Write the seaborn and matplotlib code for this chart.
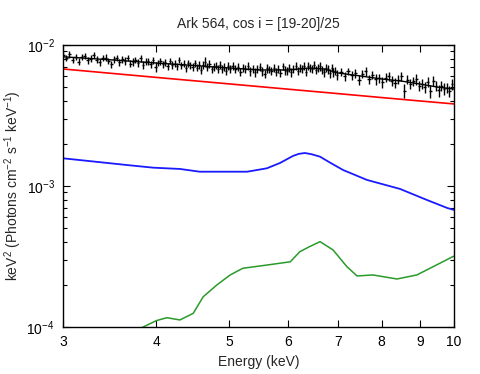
import numpy as np
import pandas as pd
import matplotlib
matplotlib.use("Agg")
import matplotlib.pyplot as plt
import seaborn as sns
from matplotlib.ticker import LogLocator, NullLocator, NullFormatter

# Donnees (flux en keV^2 Photons cm^-2 s^-1 keV^-1)

title = "Ark 564, cos i = [19-20]/25"

# points observes (energie en keV, flux en 1e-3)
obs_energy = [
    3.00, 3.03, 3.06, 3.09, 3.12, 3.15, 3.18, 3.21, 3.24, 3.27,
    3.30, 3.33, 3.36, 3.39, 3.42, 3.45, 3.48, 3.51, 3.54, 3.57,
    3.60, 3.63, 3.66, 3.69, 3.72, 3.75, 3.78, 3.81, 3.84, 3.87,
    3.90, 3.93, 3.96, 3.99, 4.02, 4.05, 4.08, 4.11, 4.14, 4.17,
    4.20, 4.23, 4.26, 4.29, 4.32, 4.35, 4.38, 4.41, 4.44, 4.47,
    4.50, 4.53, 4.56, 4.59, 4.62, 4.65, 4.68, 4.71, 4.74, 4.77,
    4.80, 4.83, 4.86, 4.89, 4.92, 4.95, 4.98,
    5.02, 5.06, 5.10, 5.14, 5.18, 5.22, 5.26, 5.30, 5.34, 5.38,
    5.42, 5.46, 5.50, 5.54, 5.58, 5.62, 5.66, 5.70, 5.74, 5.78,
    5.82, 5.86, 5.90, 5.94, 5.98, 6.02, 6.06, 6.10, 6.14, 6.18,
    6.22, 6.26, 6.30, 6.34, 6.38, 6.42, 6.46, 6.50, 6.54, 6.58,
    6.62, 6.66, 6.70, 6.74, 6.78, 6.82, 6.86, 6.90, 6.94, 6.98,
    7.06, 7.14, 7.22, 7.30, 7.38, 7.46, 7.54, 7.62, 7.70, 7.78,
    7.86, 7.94, 8.02, 8.10, 8.18, 8.26, 8.34, 8.42, 8.50, 8.58,
    8.66, 8.74, 8.82, 8.90, 8.98, 9.06, 9.14, 9.22, 9.30, 9.38,
    9.46, 9.54, 9.62, 9.70, 9.78, 9.86, 9.94,
]
obs_energy_err = [0.015] * 67 + [0.02] * 50 + [0.04] * 37
obs_flux = [
    8.50, 8.06, 8.61, 7.84, 8.23, 7.63, 8.26, 8.39, 7.81, 8.02,
    8.48, 7.89, 7.55, 8.08, 8.14, 7.71, 7.30, 7.90, 8.10, 7.54,
    7.91, 7.72, 8.09, 7.37, 7.58, 7.87, 7.46, 8.05, 7.19, 7.63,
    7.67, 7.28, 7.78, 7.01, 7.44, 7.64, 7.33, 7.53, 7.07, 7.72,
    7.18, 7.38, 7.07, 7.85, 7.18, 7.38, 6.86, 7.42, 7.19, 7.03,
    7.44, 6.92, 7.19, 6.67, 7.22, 7.62, 6.98, 7.38, 6.74, 7.00,
    7.12, 6.76, 7.23, 6.79, 6.99, 6.56, 7.09,
    6.72, 7.11, 6.76, 7.01, 6.45, 6.91, 6.76, 7.14, 6.52, 6.77,
    6.42, 6.80, 6.98, 6.52, 6.25, 6.85, 6.72, 6.58, 6.92, 6.45,
    6.78, 6.32, 7.05, 6.65, 6.52, 6.86, 6.41, 6.77, 7.07, 6.56,
    6.92, 6.74, 7.10, 6.44, 7.07, 6.87, 6.72, 7.18, 6.63, 6.88,
    7.06, 6.63, 6.42, 6.90, 6.71, 6.32, 6.89, 6.41, 6.54, 6.17,
    6.42, 6.00, 6.51, 6.09, 6.28, 5.69, 6.25, 6.50, 5.73, 6.16,
    5.70, 5.83, 5.44, 5.87, 6.01, 5.58, 5.39, 5.69, 5.99, 4.75,
    5.69, 5.32, 5.54, 5.71, 5.14, 5.32, 5.01, 5.49, 4.70, 5.60,
    5.15, 4.77, 5.14, 4.87, 4.99, 4.71, 5.28,
]
obs_flux_err = [
    0.44, 0.42, 0.46, 0.40, 0.43, 0.45, 0.41, 0.44, 0.42, 0.46,
    0.43, 0.40, 0.45, 0.42, 0.44, 0.41, 0.46, 0.43, 0.40, 0.44,
    0.42, 0.45, 0.41, 0.43, 0.46, 0.40, 0.44, 0.42, 0.45, 0.41,
    0.43, 0.46, 0.42, 0.55, 0.40, 0.44, 0.41, 0.45, 0.43, 0.40,
    0.46, 0.42, 0.44, 0.41, 0.45, 0.43, 0.40, 0.44, 0.42, 0.46,
    0.41, 0.43, 0.45, 0.40, 0.44, 0.60, 0.42, 0.46, 0.41, 0.43,
    0.40, 0.45, 0.42, 0.44, 0.41, 0.46, 0.43,
    0.44, 0.46, 0.43, 0.47, 0.42, 0.45, 0.48, 0.44, 0.46, 0.43,
    0.47, 0.45, 0.42, 0.46, 0.44, 0.48, 0.43, 0.45, 0.47, 0.44,
    0.46, 0.42, 0.45, 0.48, 0.43, 0.46, 0.44, 0.47, 0.45, 0.42,
    0.46, 0.44, 0.48, 0.43, 0.45, 0.47, 0.44, 0.46, 0.42, 0.45,
    0.48, 0.44, 0.46, 0.43, 0.47, 0.45, 0.42, 0.46, 0.44, 0.48,
    0.42, 0.45, 0.40, 0.47, 0.43, 0.46, 0.41, 0.50, 0.44, 0.42,
    0.48, 0.43, 0.46, 0.41, 0.45, 0.49, 0.42, 0.44, 0.47, 0.55,
    0.43, 0.46, 0.41, 0.48, 0.44, 0.42, 0.47, 0.43, 0.52, 0.45,
    0.41, 0.46, 0.43, 0.48, 0.42, 0.45, 0.47,
]

# modele total (noir), en 1e-3
model_energy = [3.0, 3.5, 4.0, 4.5, 5.0, 5.5, 6.0, 6.4, 6.7, 7.0, 7.5, 8.0, 8.5, 9.0, 9.5, 10.0]
model_flux = [8.25, 7.83, 7.45, 7.15, 6.87, 6.65, 6.65, 6.87, 6.76, 6.33, 6.03, 5.74, 5.55, 5.29, 5.03, 4.87]

# loi de puissance (rouge), en 1e-3
pl_energy = [3.0, 4.0, 5.0, 6.0, 7.0, 8.0, 9.0, 10.0]
pl_flux = [6.76, 5.89, 5.30, 4.86, 4.52, 4.24, 4.01, 3.82]

# reflexion (bleu), en 1e-3
refl_energy = [3.0, 3.65, 3.96, 4.30, 4.57, 5.29, 5.62, 5.85, 6.09, 6.20, 6.32, 6.45,
               6.62, 6.85, 7.11, 7.65, 8.47, 9.20, 9.79, 10.0]
refl_flux = [1.572, 1.409, 1.349, 1.321, 1.263, 1.263, 1.335, 1.455, 1.633, 1.69, 1.714, 1.68,
             1.614, 1.45, 1.297, 1.104, 0.953, 0.796, 0.699, 0.676]

# raie du fer (vert), en 1e-4
line_energy = [3.70, 3.84, 4.00, 4.13, 4.30, 4.48, 4.62, 4.82, 5.02, 5.22, 5.62, 6.04,
               6.22, 6.40, 6.62, 6.89, 7.19, 7.42, 7.79, 8.39, 8.92, 9.38, 9.97, 10.0]
line_flux = [0.90, 1.00, 1.11, 1.164, 1.122, 1.25, 1.64, 1.99, 2.34, 2.61, 2.75, 2.90,
             3.42, 3.70, 4.03, 3.52, 2.68, 2.30, 2.34, 2.19, 2.34, 2.68, 3.16, 3.18]

# Style
sns.set_style("ticks")
plt.rcParams['font.family'] = ['Liberation Sans', 'DejaVu Sans']
plt.rcParams['mathtext.fontset'] = 'custom'
plt.rcParams['mathtext.rm'] = 'Liberation Sans'
plt.rcParams['mathtext.it'] = 'Liberation Sans:italic'
plt.rcParams['mathtext.bf'] = 'Liberation Sans:bold'

obs = pd.DataFrame({
    "energy": obs_energy,
    "energy_err": obs_energy_err,
    "flux": np.array(obs_flux) * 1e-3,
    "flux_err": np.array(obs_flux_err) * 1e-3,
})
model = pd.DataFrame({"energy": model_energy, "flux": np.array(model_flux) * 1e-3})
pl = pd.DataFrame({"energy": pl_energy, "flux": np.array(pl_flux) * 1e-3})
refl = pd.DataFrame({"energy": refl_energy, "flux": np.array(refl_flux) * 1e-3})
fe = pd.DataFrame({"energy": line_energy, "flux": np.array(line_flux) * 1e-4})

fig = plt.figure(figsize=(4.81, 3.74), dpi=100)
ax = fig.add_axes([63 / 481, 47 / 374, 391 / 481, 282 / 374])

sns.lineplot(data=pl, x="energy", y="flux", color="#ff0000", lw=1.2, ax=ax)
sns.lineplot(data=refl, x="energy", y="flux", color="#1a1aff", lw=1.3, ax=ax)
sns.lineplot(data=fe, x="energy", y="flux", color="#2a9a2a", lw=1.1, ax=ax)
sns.lineplot(data=model, x="energy", y="flux", color="black", lw=1.0, ax=ax)
ax.errorbar(obs["energy"], obs["flux"], xerr=obs["energy_err"], yerr=obs["flux_err"],
            fmt="none", ecolor="black", elinewidth=1.0, capsize=0)

ax.set_xscale("log")
ax.set_yscale("log")
ax.set_xlim(3, 10)
ax.set_ylim(1e-4, 1e-2)

ax.set_xticks([3, 4, 5, 6, 7, 8, 9, 10])
ax.set_xticklabels(["3", "4", "5", "6", "7", "8", "9", "10"])
ax.xaxis.set_minor_locator(NullLocator())
ax.xaxis.set_minor_formatter(NullFormatter())
ax.yaxis.set_major_locator(LogLocator(base=10))
ax.yaxis.set_minor_locator(LogLocator(base=10, subs=np.arange(2, 10)))
ax.yaxis.set_minor_formatter(NullFormatter())

ax.tick_params(which="both", direction="in", top=True, right=True, labelsize=10, colors="black")
ax.tick_params(which="major", length=5, width=0.8, pad=6)
ax.tick_params(which="minor", length=3, width=0.8)
for s in ax.spines.values():
    s.set_linewidth(1.0)
    s.set_color("black")

ax.set_xlabel("Energy (keV)", fontsize=10, labelpad=4)
ax.set_ylabel("keV$^2$ (Photons cm$^{-2}$ s$^{-1}$ keV$^{-1}$)", fontsize=10)
ax.yaxis.set_label_coords(-0.10, 0.5)
ax.set_title(title, fontsize=10, pad=12)

fig.savefig("out.png", dpi=100)
